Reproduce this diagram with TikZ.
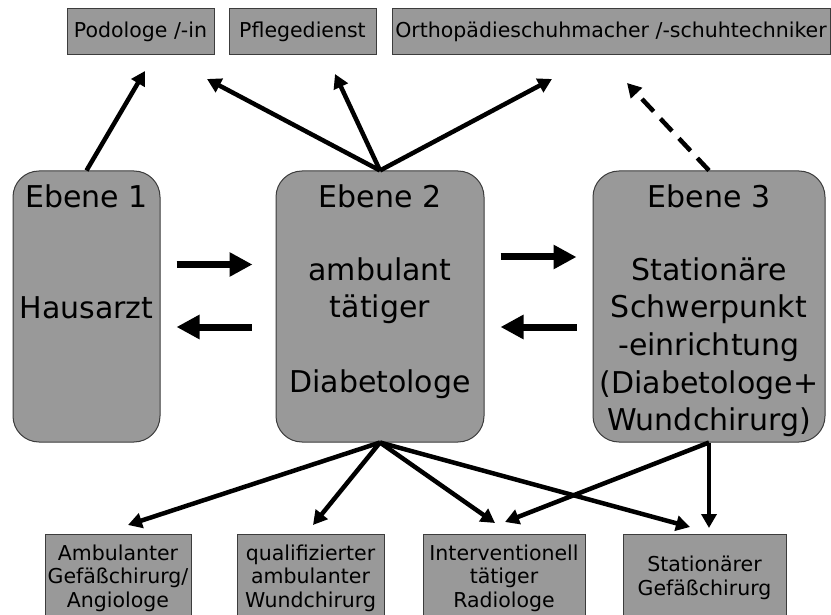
\documentclass[tikz,border=0pt]{standalone}
\usepackage{fontspec}
\setmainfont{DejaVu Sans}
\usetikzlibrary{arrows.meta,calc}
\definecolor{boxgray}{HTML}{999999}
\definecolor{edgegray}{HTML}{3C3C3C}
\begin{document}
\begin{tikzpicture}[x=1pt,y=-1pt,
  smallbox/.style={draw=edgegray, line width=1pt, fill=boxgray, inner sep=0pt, align=center, font=\fontsize{20.5}{23.5}\selectfont},
  bigbox/.style={draw=edgegray, line width=1pt, fill=boxgray, rounded corners=26pt, inner sep=0pt},
  bigtext/.style={font=\fontsize{30}{37.5}\selectfont, anchor=base, inner sep=0pt},
  conn/.style={line width=4.5pt, -{Triangle[length=14pt,width=15pt]}},
  dconn/.style={conn, dash pattern=on 17pt off 10pt},
  blockarrow/.style={line width=7pt, -{Triangle[length=23pt,width=23pt]}}
]
\useasboundingbox (0,0) rectangle (831,615);
\clip (0,0) rectangle (831,615);

% top boxes
\node[smallbox, minimum width=147pt, minimum height=46pt] (pod) at (140.5,32) {Podologe /-in};
\node[smallbox, minimum width=147pt, minimum height=46pt] (pfl) at (302.5,32) {Pflegedienst};
\node[smallbox, minimum width=438pt, minimum height=46pt] (orth) at (611,32) {Orthopädieschuhmacher /-schuhtechniker};

% main boxes
\node[bigbox, minimum width=147pt, minimum height=271pt] (e1) at (86.5,306.5) {};
\node[bigbox, minimum width=208pt, minimum height=271pt] (e2) at (380,306.5) {};
\node[bigbox, minimum width=232pt, minimum height=271pt] (e3) at (709,306.5) {};

\node[bigtext] (e1t) at (86.5,208) {Ebene 1};
\node[bigtext] (e1a) at (86.5,318) {Hausarzt};

\node[bigtext] (e2t) at (380,208) {Ebene 2};
\node[bigtext] (e2a) at (380,280) {ambulant};
\node[bigtext] (e2b) at (380,317) {tätiger};
\node[bigtext] (e2c) at (380,392) {Diabetologe};

\node[bigtext] (e3t) at (709,208) {Ebene 3};
\node[bigtext] (e3a) at (709,280) {Stationäre};
\node[bigtext] (e3b) at (709,317) {Schwerpunkt};
\node[bigtext] (e3c) at (709,355) {-einrichtung};
\node[bigtext] (e3d) at (709,393) {(Diabetologe+};
\node[bigtext] (e3e) at (709,430) {Wundchirurg)};

% bottom boxes
\node[smallbox, minimum width=146pt, minimum height=88pt] (amb) at (118,578) {Ambulanter\\Gefäßchirurg/\\Angiologe};
\node[smallbox, minimum width=147pt, minimum height=88pt] (qual) at (310.5,578) {qualifizierter\\ambulanter\\Wundchirurg};
\node[smallbox, minimum width=162pt, minimum height=88pt] (intv) at (504,578) {Interventionell\\tätiger\\Radiologe};
\node[smallbox, minimum width=163pt, minimum height=88pt] (stat) at (704.5,578) {Stationärer\\Gefäßchirurg};

% arrow tip coordinates
\coordinate (tpod1) at (145,71);
\coordinate (tpod2) at (207,79);
\coordinate (tpfl) at (335,74);
\coordinate (torth1) at (552,79);
\coordinate (torth2) at (627,83);
\coordinate (tamb) at (128,525);
\coordinate (tqual) at (313,525);
\coordinate (tint1) at (495,523);
\coordinate (tstat1) at (690,527);
\coordinate (tint2) at (505,522);
\coordinate (tstat2) at (709,528);

% upward connectors
\draw[conn] (e1.north) -- (tpod1);
\draw[conn] (e2.north) -- (tpod2);
\draw[conn] (e2.north) -- (tpfl);
\draw[conn] (e2.north) -- (torth1);
\draw[dconn] (e3.north) -- (torth2);

% downward connectors
\draw[conn] (e2.south) -- (tamb);
\draw[conn] (e2.south) -- (tqual);
\draw[conn] (e2.south) -- (tint1);
\draw[conn] (e2.south) -- (tstat1);
\draw[conn] (e3.south) -- (tint2);
\draw[conn] (e3.south) -- (tstat2);

% block arrows between levels
\draw[blockarrow] ($(e1.east)+(16,-42)$) -- ($(e2.west)+(-23,-42)$);
\draw[blockarrow] ($(e2.west)+(-24,20.5)$) -- ($(e1.east)+(16,20.5)$);
\draw[blockarrow] ($(e2.east)+(16,-49.5)$) -- ($(e3.west)+(-16,-49.5)$);
\draw[blockarrow] ($(e3.west)+(-16,20.5)$) -- ($(e2.east)+(16,20.5)$);
\end{tikzpicture}
\end{document}
